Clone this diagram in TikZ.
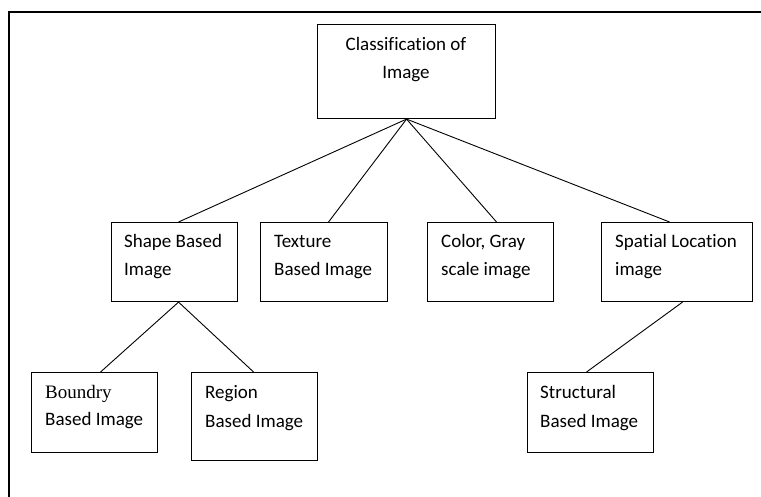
\documentclass[tikz,border=0pt]{standalone}
\usepackage{fontspec}
\setmainfont[Ligatures={NoCommon}]{Carlito}
\newfontfamily\timesfont{Liberation Serif}
\usetikzlibrary{calc}
\begin{document}
\begin{tikzpicture}[x=1pt,y=-1pt,
  box/.style={draw, line width=1.1pt, rectangle, inner sep=0pt, anchor=north west},
  lbl/.style={anchor=base west, inner sep=0pt, font=\fontsize{19}{28}\selectfont},
  link/.style={line width=0.9pt}]
\useasboundingbox (0,0) rectangle (761,497);
\draw[line width=2pt] (761,12) coordinate (fr1) -- (9,12) coordinate (fr2) -- (9,497) coordinate (fr3);
% boxes
\node[box, minimum width=178pt, minimum height=94pt] (top) at (317,24) {};
\node[box, minimum width=126pt, minimum height=79pt] (shape) at (111,222) {};
\node[box, minimum width=127pt, minimum height=79pt] (texture) at (260,222) {};
\node[box, minimum width=126pt, minimum height=79pt] (color) at (427,222) {};
\node[box, minimum width=151pt, minimum height=79pt] (spatial) at (601,222) {};
\node[box, minimum width=126pt, minimum height=80pt] (boundry) at (31,372) {};
\node[box, minimum width=126pt, minimum height=88pt] (region) at (191,372) {};
\node[box, minimum width=126pt, minimum height=80pt] (structural) at (527,372) {};
% labels
\node[lbl, anchor=base] (t1) at (406,51) {Classification of};
\node[lbl, anchor=base] (t2) at (406,79) {Image};
\node[lbl] (s1) at (124,248) {Shape Based};
\node[lbl] (s2) at (124,276) {Image};
\node[lbl] (x1) at (274,248) {Texture};
\node[lbl] (x2) at (274,276) {Based Image};
\node[lbl] (c1) at (441,248) {Color, Gray};
\node[lbl] (c2) at (441,276) {scale image};
\node[lbl] (p1) at (615,248) {Spatial Location};
\node[lbl] (p2) at (615,276) {image};
\node[lbl, font=\fontsize{19}{28}\timesfont] (b1) at (45,398) {Boundry};
\node[lbl] (b2) at (45,425) {Based Image};
\node[lbl] (r1) at (205,398) {Region};
\node[lbl] (r2) at (205,427) {Based Image};
\node[lbl] (u1) at (540,398) {Structural};
\node[lbl] (u2) at (540,427) {Based Image};
% connectors
\draw[link] (top.south) -- ([xshift=4pt]shape.north);
\draw[link] (top.south) -- ([xshift=4.5pt]texture.north);
\draw[link] (top.south) -- ([xshift=6pt]color.north);
\draw[link] (top.south) -- ([xshift=-7.5pt]spatial.north);
\draw[link] ([xshift=4pt]shape.south) -- ([xshift=6pt]boundry.north);
\draw[link] ([xshift=4pt]shape.south) -- ([xshift=-1pt]region.north);
\draw[link] ([xshift=5.5pt]spatial.south) -- ([xshift=-4pt]structural.north);
\end{tikzpicture}
\end{document}
